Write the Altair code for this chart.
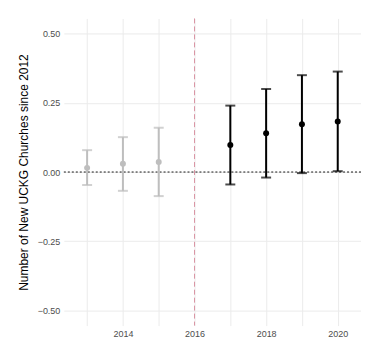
import altair as alt
import pandas as pd

years = [2013, 2014, 2015, 2017, 2018, 2019, 2020]
estimates = [0.015, 0.030, 0.036, 0.098, 0.140, 0.173, 0.183]
lower = [-0.047, -0.068, -0.087, -0.045, -0.020, -0.004, 0.003]
upper = [0.079, 0.126, 0.160, 0.240, 0.300, 0.350, 0.363]
period = ["pre", "pre", "pre", "post", "post", "post", "post"]

x_ticks = [2013, 2014, 2015, 2016, 2017, 2018, 2019, 2020]
y_ticks = [-0.5, -0.375, -0.25, -0.125, 0.0, 0.125, 0.25, 0.375, 0.5]
treatment_year = [2016]
zero_line = [0.0]

df = pd.DataFrame({"year": years, "est": estimates, "lo": lower, "hi": upper, "period": period})

xs = alt.Scale(domain=[2012.35, 2020.65], nice=False, zero=False)
ys = alt.Scale(domain=[-0.555, 0.555], nice=False, zero=False)
col = alt.Scale(domain=["pre", "post"], range=["#bebebe", "#000000"])

xaxis = alt.Axis(values=x_ticks, labelExpr="datum.value % 2 == 0 ? format(datum.value, 'd') : ''",
                 title=None, grid=True, gridColor="#ebebeb", gridWidth=1, ticks=False, domain=False,
                 labelColor="#4d4d4d", labelFontSize=9, labelFont="Liberation Sans", labelPadding=4)
yaxis = alt.Axis(values=y_ticks,
                 labelExpr="abs(datum.value*4 - round(datum.value*4)) < 0.001 ? replace(format(datum.value, '.2f'), '-', '\u2212') : ''",
                 title="Number of New UCKG Churches since 2012", grid=True, gridColor="#ebebeb", gridWidth=1,
                 ticks=False, domain=False, labelColor="#4d4d4d", labelFontSize=9, labelFont="Liberation Sans",
                 labelPadding=4, titleFont="Liberation Sans", titleFontSize=12, titleFontWeight="normal",
                 titleColor="#000000", titlePadding=7)

base = alt.Chart(df)

grid = base.mark_point(opacity=0).encode(
    x=alt.X("year:Q", scale=xs, axis=xaxis),
    y=alt.Y("est:Q", scale=ys, axis=yaxis),
)

vline = alt.Chart(pd.DataFrame({"x": treatment_year})).mark_rule(
    color="#d6899a", strokeDash=[5, 3], strokeWidth=0.9
).encode(x=alt.X("x:Q", scale=xs))

hline = alt.Chart(pd.DataFrame({"y": zero_line})).mark_rule(
    color="#000000", strokeDash=[2, 2], strokeWidth=0.9
).encode(y=alt.Y("y:Q", scale=ys))

bars = base.mark_rule(strokeWidth=2).encode(
    x=alt.X("year:Q", scale=xs),
    y=alt.Y("lo:Q", scale=ys),
    y2="hi:Q",
    color=alt.Color("period:N", scale=col, legend=None),
)

cap_lo = base.mark_tick(orient="horizontal", size=10, thickness=2).encode(
    x=alt.X("year:Q", scale=xs),
    y=alt.Y("lo:Q", scale=ys),
    color=alt.Color("period:N", scale=col, legend=None),
)
cap_hi = base.mark_tick(orient="horizontal", size=10, thickness=2).encode(
    x=alt.X("year:Q", scale=xs),
    y=alt.Y("hi:Q", scale=ys),
    color=alt.Color("period:N", scale=col, legend=None),
)

pts = base.mark_circle(size=36, opacity=1).encode(
    x=alt.X("year:Q", scale=xs),
    y=alt.Y("est:Q", scale=ys),
    color=alt.Color("period:N", scale=col, legend=None),
)

chart = alt.layer(grid, vline, hline, bars, cap_lo, cap_hi, pts).properties(
    width=298, height=308,
    background="white",
    autosize=alt.AutoSizeParams(type="none"),
    padding={"left": 56, "top": 10, "right": 0, "bottom": 22},
).configure_view(stroke=None)

chart.save("out.html", embed_options={"renderer": "svg", "actions": False})
